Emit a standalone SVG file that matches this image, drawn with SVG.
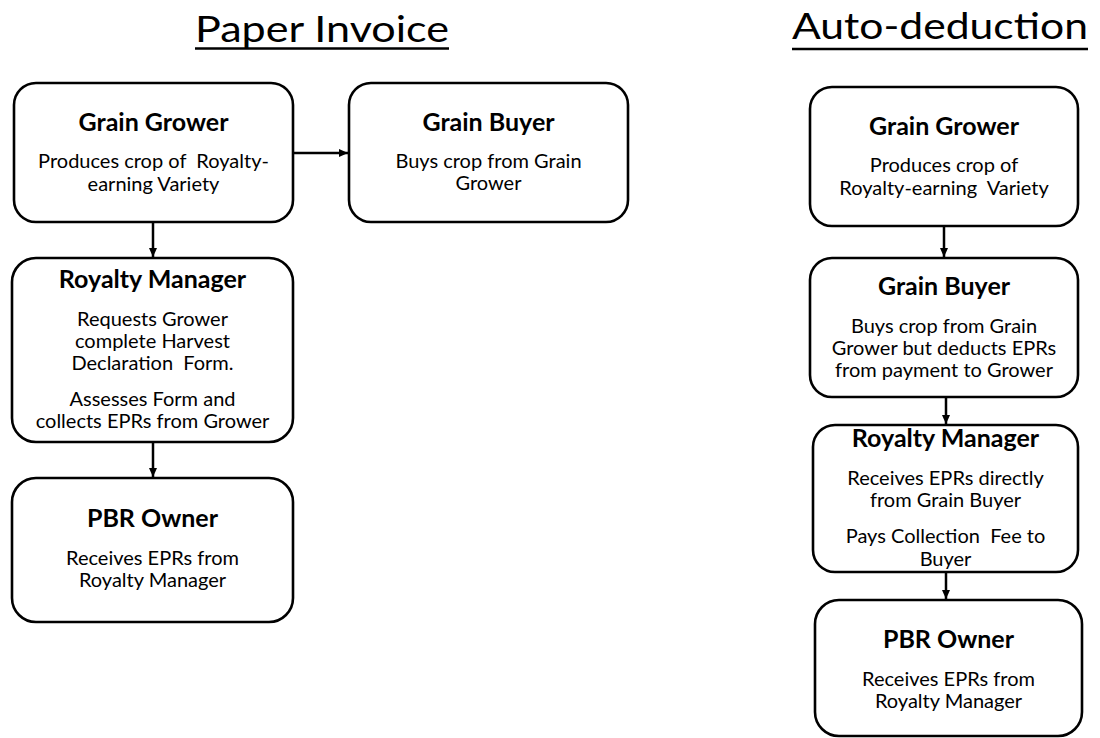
<svg xmlns="http://www.w3.org/2000/svg" width="1100" height="738" viewBox="0 0 1100 738">
<style>
.box{fill:#fff;stroke:#000;stroke-width:2.6}
.h{font-family:Lato,"Open Sans","Liberation Sans",sans-serif;font-weight:bold;font-size:25px;text-anchor:middle;fill:#000}
.b{font-family:Lato,"Open Sans","Liberation Sans",sans-serif;font-size:20px;text-anchor:middle;fill:#000;white-space:pre}
.t{font-family:Lato,"Open Sans","Liberation Sans",sans-serif;font-size:37px;text-anchor:middle;fill:#000}
.ul{stroke:#000;stroke-width:2.5}
.c{stroke:#000;stroke-width:2.5;fill:none;marker-end:url(#arr)}
</style>
<defs>
<marker id="arr" markerUnits="userSpaceOnUse" markerWidth="10" markerHeight="9" refX="9" refY="4" orient="auto">
<path d="M0,0 L9,4 L0,8 z" fill="#000"/>
</marker>
</defs>
<rect width="1100" height="738" fill="#fff"/>
<g id="titles">
<text class="t" x="322" y="42" textLength="254" lengthAdjust="spacingAndGlyphs">Paper Invoice</text>
<line class="ul" x1="195" y1="48.5" x2="449" y2="48.5"/>
<text class="t" x="940" y="39" textLength="296" lengthAdjust="spacingAndGlyphs">Auto-deduction</text>
<line class="ul" x1="792" y1="49" x2="1088" y2="49"/>
</g>
<g id="connectors">
<line class="c" x1="293" y1="153" x2="348" y2="153"/>
<line class="c" x1="153" y1="222" x2="153" y2="257"/>
<line class="c" x1="153" y1="442" x2="153" y2="477"/>
<line class="c" x1="944" y1="226" x2="944" y2="257"/>
<line class="c" x1="946" y1="397" x2="946" y2="424"/>
<line class="c" x1="946" y1="572" x2="946" y2="599"/>
</g>
<g id="pi-grower">
<rect class="box" x="14" y="83" width="279" height="139" rx="22"/>
<text class="h" x="153.5" y="131">Grain Grower</text>
<text class="b" x="153.5" y="168">Produces crop of  Royalty-</text>
<text class="b" x="153.5" y="191">earning Variety</text>
</g>
<g id="pi-buyer">
<rect class="box" x="349" y="83" width="279" height="139" rx="22"/>
<text class="h" x="488.5" y="131">Grain Buyer</text>
<text class="b" x="488.5" y="168">Buys crop from Grain</text>
<text class="b" x="488.5" y="190">Grower</text>
</g>
<g id="pi-manager">
<rect class="box" x="12" y="258" width="281" height="184" rx="24"/>
<text class="h" x="152.5" y="288">Royalty Manager</text>
<text class="b" x="152.5" y="326">Requests Grower</text>
<text class="b" x="152.5" y="348">complete Harvest</text>
<text class="b" x="152.5" y="370">Declaration  Form.</text>
<text class="b" x="152.5" y="406">Assesses Form and</text>
<text class="b" x="152.5" y="428">collects EPRs from Grower</text>
</g>
<g id="pi-owner">
<rect class="box" x="12" y="478" width="281" height="144" rx="24"/>
<text class="h" x="152.5" y="527">PBR Owner</text>
<text class="b" x="152.5" y="565">Receives EPRs from</text>
<text class="b" x="152.5" y="587">Royalty Manager</text>
</g>
<g id="ad-grower">
<rect class="box" x="810" y="87" width="268" height="139" rx="22"/>
<text class="h" x="944" y="135">Grain Grower</text>
<text class="b" x="944" y="172">Produces crop of</text>
<text class="b" x="944" y="195">Royalty-earning  Variety</text>
</g>
<g id="ad-buyer">
<rect class="box" x="810" y="258" width="268" height="139" rx="22"/>
<text class="h" x="944" y="295">Grain Buyer</text>
<text class="b" x="944" y="333">Buys crop from Grain</text>
<text class="b" x="944" y="355">Grower but deducts EPRs</text>
<text class="b" x="944" y="377">from payment to Grower</text>
</g>
<g id="ad-manager">
<rect class="box" x="813" y="425" width="265" height="147" rx="22"/>
<text class="h" x="945.5" y="447">Royalty Manager</text>
<text class="b" x="945.5" y="485">Receives EPRs directly</text>
<text class="b" x="945.5" y="507">from Grain Buyer</text>
<text class="b" x="945.5" y="543">Pays Collection  Fee to</text>
<text class="b" x="945.5" y="566">Buyer</text>
</g>
<g id="ad-owner">
<rect class="box" x="815" y="600" width="267" height="136" rx="24"/>
<text class="h" x="948.5" y="648">PBR Owner</text>
<text class="b" x="948.5" y="686">Receives EPRs from</text>
<text class="b" x="948.5" y="708">Royalty Manager</text>
</g>
</svg>
